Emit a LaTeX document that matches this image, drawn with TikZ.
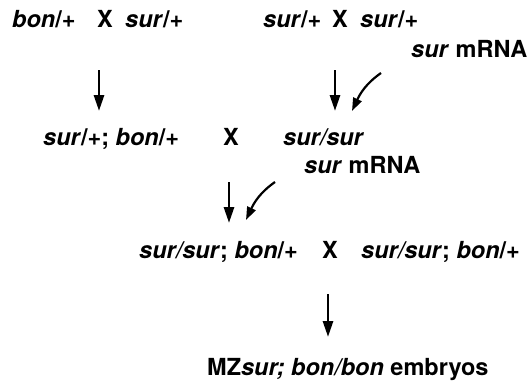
\documentclass[tikz,border=0pt]{standalone}
\usepackage{fontspec}
\setmainfont{TeX Gyre Heros}
\usetikzlibrary{arrows.meta}
\newcommand{\gn}[1]{\textit{#1}}
\begin{document}
\begin{tikzpicture}[x=1pt,y=1pt,
  lbl/.style={anchor=base west,inner sep=0pt,font=\fontsize{23.5}{28}\selectfont\bfseries},
  down/.style={line width=2.8pt,-{Triangle[length=16pt,width=10pt]}},
  bent/.style={line width=2.2pt,-{Triangle[length=13pt,width=9pt]}}]
\useasboundingbox (0,0) rectangle (529,-381);
% row 1 left
\node[lbl] (a1) at (12,-27) {\gn{bon}/+};
\node[lbl] (ax) at (97,-27) {X};
\node[lbl] (a2) at (125,-27) {\gn{sur}/+};
% row 1 right
\node[lbl] (b1) at (263,-27) {\gn{sur}/+};
\node[lbl] (bx) at (332,-27) {X};
\node[lbl] (b2) at (360,-27) {\gn{sur}/+};
\node[lbl] (bm) at (411,-57) {\gn{sur} mRNA};
% row 2
\node[lbl] (c1) at (43,-145) {\gn{sur}/+; \gn{bon}/+};
\node[lbl] (cx) at (223,-145) {X};
\node[lbl] (c2) at (283,-145) {\gn{sur/sur}};
\node[lbl] (cm) at (304,-173) {\gn{sur} mRNA};
% row 3
\node[lbl] (d1) at (139,-258) {\gn{sur/sur}; \gn{bon}/+};
\node[lbl] (dx) at (322,-258) {X};
\node[lbl] (d2) at (361,-258) {\gn{sur/sur}; \gn{bon}/+};
% bottom
\node[lbl] (e) at (207,-375) {MZ\gn{sur; bon/bon} embryos};
% arrow end points
\coordinate (p1s) at (99,-70);  \coordinate (p1e) at (99,-111);
\coordinate (p2s) at (335,-70); \coordinate (p2e) at (335,-111);
\coordinate (q2s) at (381,-73); \coordinate (q2e) at (352,-111);
\coordinate (p3s) at (229,-182); \coordinate (p3e) at (229,-223);
\coordinate (q3s) at (275,-182); \coordinate (q3e) at (246,-220);
\coordinate (p4s) at (328,-294); \coordinate (p4e) at (328,-337);
\draw[down] (p1s) -- (p1e);
\draw[down] (p2s) -- (p2e);
\draw[bent] (q2s) to[out=215,in=65] (q2e);
\draw[down] (p3s) -- (p3e);
\draw[bent] (q3s) to[out=215,in=65] (q3e);
\draw[down] (p4s) -- (p4e);
\end{tikzpicture}
\end{document}
